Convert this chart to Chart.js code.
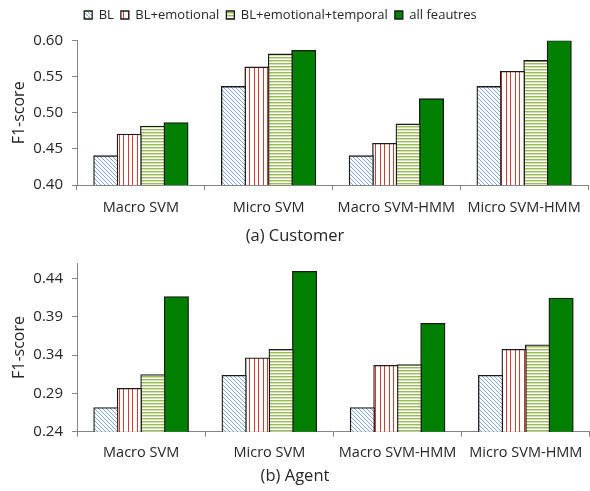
<!DOCTYPE html>
<html>
<head>
<meta charset="utf-8">
<script src="https://cdn.jsdelivr.net/npm/chart.js@4/dist/chart.umd.min.js"></script>
<style>
  html, body { margin: 0; padding: 0; background: #ffffff; }
  #wrap { position: relative; width: 590px; height: 491px; }
  .panel { position: absolute; left: 0; width: 590px; }
  #p1 { top: 0; height: 250px; }
  #p2 { top: 250px; height: 241px; }
</style>
</head>
<body>
<div id="wrap">
  <div class="panel" id="p1"><canvas id="c1"></canvas></div>
  <div class="panel" id="p2"><canvas id="c2"></canvas></div>
</div>
<script>
// Categories and series names
const categories = ['Macro SVM', 'Micro SVM', 'Macro SVM-HMM', 'Micro SVM-HMM'];
const seriesNames = ['BL', 'BL+emotional', 'BL+emotional+temporal', 'all feautres'];

// (a) Customer F1-scores
const customerBL = [0.440, 0.536, 0.440, 0.536];
const customerEmotional = [0.470, 0.563, 0.457, 0.557];
const customerTemporal = [0.481, 0.581, 0.484, 0.572];
const customerAll = [0.486, 0.586, 0.519, 0.600];

// (b) Agent F1-scores
const agentBL = [0.271, 0.313, 0.271, 0.313];
const agentEmotional = [0.296, 0.336, 0.326, 0.347];
const agentTemporal = [0.314, 0.347, 0.327, 0.353];
const agentAll = [0.416, 0.449, 0.381, 0.414];

// Y-axis tick labels
const customerTicks = [0.40, 0.45, 0.50, 0.55, 0.60];
const agentTicks = [0.24, 0.29, 0.34, 0.39, 0.44];

const FONT = "'Open Sans', 'DejaVu Sans', sans-serif";
const TEXT = '#262626';
const AXIS = '#868686';

// Hatched fills for the bars
function makePattern(kind) {
  const c = document.createElement('canvas');
  const g = c.getContext('2d');
  if (kind === 'diag') {
    c.width = 4; c.height = 4;
    g.fillStyle = '#ffffff'; g.fillRect(0, 0, 4, 4);
    g.fillStyle = '#7fa7da';
    for (let i = 0; i < 4; i++) g.fillRect(i, i, 1, 1);
  } else if (kind === 'vert') {
    c.width = 9; c.height = 1;
    g.fillStyle = '#ffffff'; g.fillRect(0, 0, 9, 1);
    g.fillStyle = '#d83a32';
    g.fillRect(2, 0, 1, 1);
    g.fillRect(6, 0, 1, 1);
  } else {
    c.width = 1; c.height = 3;
    g.fillStyle = '#ffffff'; g.fillRect(0, 0, 1, 3);
    g.fillStyle = '#9bbb59'; g.fillRect(0, 0, 1, 1);
    g.fillStyle = '#d3e2b2'; g.fillRect(0, 1, 1, 1);
  }
  return g.createPattern(c, 'repeat');
}

const fills = [makePattern('diag'), makePattern('vert'), makePattern('horiz'), '#007f00'];

function buildDatasets(seriesValues) {
  return seriesValues.map((vals, i) => ({
    label: seriesNames[i],
    data: vals,
    backgroundColor: fills[i],
    borderColor: '#1a1a1a',
    borderWidth: 1.3,
    inflateAmount: 0.8,
    categoryPercentage: 0.733,
    barPercentage: 1.0
  }));
}

function buildOptions(cfg) {
  return {
    responsive: true,
    maintainAspectRatio: false,
    animation: false,
    layout: { padding: { top: cfg.padTop, left: 0, right: 0, bottom: 0 } },
    plugins: {
      legend: {
        display: cfg.legend,
        position: 'top',
        labels: {
          font: { family: FONT, size: 13 },
          color: TEXT,
          boxWidth: 8,
          boxHeight: 8,
          padding: 7
        }
      },
      title: {
        display: true,
        position: 'bottom',
        text: cfg.caption,
        font: { family: FONT, size: 16.5, weight: 'normal' },
        color: TEXT,
        padding: cfg.captionPad
      },
      tooltip: { enabled: false }
    },
    scales: {
      x: {
        border: { color: AXIS, width: 1 },
        grid: { drawOnChartArea: false, drawTicks: true, tickLength: 5, color: AXIS, offset: true },
        ticks: {
          font: { family: FONT, size: 14.5 },
          color: TEXT,
          padding: cfg.xPad,
          maxRotation: 0,
          autoSkip: false
        },
        afterFit: s => { s.height = cfg.xHeight; }
      },
      y: {
        min: cfg.min,
        max: cfg.max,
        border: { color: AXIS, width: 1 },
        grid: { drawOnChartArea: false, drawTicks: true, tickLength: 5, color: AXIS },
        afterBuildTicks: s => { s.ticks = cfg.ticks.map(v => ({ value: v })); },
        afterFit: s => {
          s.width = 77;
          s.paddingTop = 0;
          s.paddingBottom = 0;
        },
        ticks: {
          font: { family: FONT, size: 15 },
          color: TEXT,
          padding: 9,
          callback: v => Number(v).toFixed(2)
        },
        title: {
          display: true,
          text: 'F1-score',
          font: { family: FONT, size: 16 },
          color: TEXT,
          padding: { top: 10, bottom: 0 }
        }
      }
    }
  };
}

// Legend row: extra space below it, and the row centred at x = 280
const legendPlacement = {
  id: 'legendPlacement',
  afterInit(chart) {
    if (!chart.legend) return;
    const fit = chart.legend.fit;
    chart.legend.fit = function () {
      fit.call(this);
      this.height += 9.2;
    };
  },
  afterLayout(chart) {
    const lg = chart.legend;
    if (!lg || !lg.lineWidths) return;
    const pad = lg.options.labels.padding;
    const lineWidth = lg.lineWidths[0];
    const start = 280.5 - (lineWidth - pad) / 2;
    lg.right = 2 * start - lg.left - pad + lineWidth;
  }
};

new Chart(document.getElementById('c1'), {
  type: 'bar',
  data: {
    labels: categories,
    datasets: buildDatasets([customerBL, customerEmotional, customerTemporal, customerAll])
  },
  options: buildOptions({
    legend: true, caption: '(a) Customer', padTop: 1.5,
    captionPad: { top: 10, bottom: 4 },
    xPad: 9.3, xHeight: 31.2,
    min: 0.40, max: 0.60, ticks: customerTicks
  }),
  plugins: [legendPlacement]
});

new Chart(document.getElementById('c2'), {
  type: 'bar',
  data: {
    labels: categories,
    datasets: buildDatasets([agentBL, agentEmotional, agentTemporal, agentAll])
  },
  options: buildOptions({
    legend: false, caption: '(b) Agent', padTop: 13.3,
    captionPad: { top: 5, bottom: 5 },
    xPad: 7.6, xHeight: 29.5,
    min: 0.24, max: 0.46, ticks: agentTicks
  })
});
</script>
</body>
</html>
